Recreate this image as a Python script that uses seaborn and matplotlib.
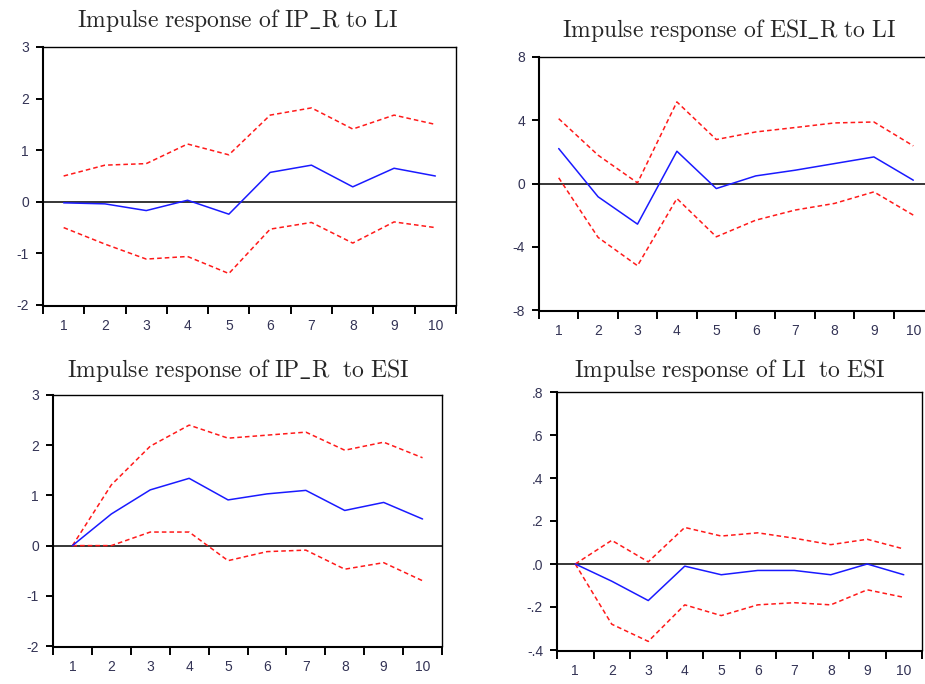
import numpy as np
import pandas as pd
import matplotlib
import matplotlib.pyplot as plt
import seaborn as sns
from matplotlib.ticker import FixedLocator, FuncFormatter, NullFormatter

periods = np.arange(1, 11)

# IP_R to LI
ip_li_resp = [-0.02, -0.04, -0.17, 0.03, -0.24, 0.57, 0.71, 0.29, 0.65, 0.50]
ip_li_up = [0.50, 0.71, 0.74, 1.12, 0.91, 1.68, 1.82, 1.41, 1.68, 1.50]
ip_li_lo = [-0.50, -0.82, -1.11, -1.06, -1.39, -0.53, -0.40, -0.80, -0.39, -0.50]

# ESI_R to LI
esi_li_resp = [2.21, -0.84, -2.57, 2.04, -0.32, 0.48, 0.84, 1.26, 1.68, 0.21]
esi_li_up = [4.10, 1.79, 0.04, 5.16, 2.78, 3.26, 3.54, 3.83, 3.89, 2.38]
esi_li_lo = [0.36, -3.41, -5.20, -0.95, -3.37, -2.32, -1.68, -1.26, -0.53, -2.00]

# IP_R to ESI
ip_esi_resp = [0.00, 0.63, 1.11, 1.34, 0.91, 1.03, 1.10, 0.70, 0.86, 0.53]
ip_esi_up = [0.00, 1.21, 1.98, 2.40, 2.14, 2.20, 2.26, 1.90, 2.06, 1.75]
ip_esi_lo = [0.00, 0.00, 0.27, 0.27, -0.30, -0.12, -0.09, -0.47, -0.34, -0.70]

# LI to ESI
li_esi_resp = [0.00, -0.08, -0.17, -0.01, -0.05, -0.03, -0.03, -0.05, 0.00, -0.05]
li_esi_up = [0.00, 0.11, 0.01, 0.17, 0.13, 0.145, 0.12, 0.09, 0.115, 0.07]
li_esi_lo = [0.00, -0.28, -0.36, -0.19, -0.24, -0.19, -0.18, -0.19, -0.12, -0.155]

# titles in computer-modern via mathtext
titles = [
    r"$\mathrm{Impulse\ response\ of\ IP\_R\ to\ LI}$",
    r"$\mathrm{Impulse\ response\ of\ ESI\_R\ to\ LI}$",
    r"$\mathrm{Impulse\ response\ of\ IP\_R\ \ to\ ESI}$",
    r"$\mathrm{Impulse\ response\ of\ LI\ \ to\ ESI}$",
]

sns.set_style("white")
plt.rcParams["axes.unicode_minus"] = False
plt.rcParams["mathtext.fontset"] = "cm"
plt.rcParams["font.family"] = ["Liberation Sans", "DejaVu Sans"]

W, H = 925, 684
fig = plt.figure(figsize=(W / 100, H / 100), dpi=100)


def px_axes(left, top, right, bottom):
    return fig.add_axes([left / W, 1 - bottom / H, (right - left) / W, (bottom - top) / H])


panels = [
    # box (l, t, r, b), ylim, yticks, title pos, data
    ((43, 47, 456, 305), (-2, 3), [-2, -1, 0, 1, 2, 3], (238, 20),
     (ip_li_resp, ip_li_up, ip_li_lo), None),
    ((539, 57, 933, 310), (-8, 8), [-8, -4, 0, 4, 8], (729, 30),
     (esi_li_resp, esi_li_up, esi_li_lo), None),
    ((53, 395, 442, 646), (-2, 3), [-2, -1, 0, 1, 2, 3], (238, 370),
     (ip_esi_resp, ip_esi_up, ip_esi_lo), None),
    ((557, 392, 922, 650), (-0.4, 0.8), [-0.4, -0.2, 0.0, 0.2, 0.4, 0.6, 0.8], (730, 370),
     (li_esi_resp, li_esi_up, li_esi_lo), "dot"),
]


def dot_fmt(v, pos):
    s = f"{v:.1f}"
    return s.replace("0.", ".")


for (box, ylim, yticks, tpos, series, fmt), title in zip(panels, titles):
    ax = px_axes(*box)
    resp, up, lo = series
    df = pd.DataFrame({"period": periods, "resp": resp, "up": up, "lo": lo})
    ax.axhline(0, color="black", lw=1.1, zorder=1)
    sns.lineplot(data=df, x="period", y="up", ax=ax, color="#ff1a1a", lw=1.1,
                 dashes=False, linestyle=(0, (3, 2)))
    sns.lineplot(data=df, x="period", y="lo", ax=ax, color="#ff1a1a", lw=1.1,
                 dashes=False, linestyle=(0, (3, 2)))
    sns.lineplot(data=df, x="period", y="resp", ax=ax, color="#1a1aff", lw=1.1)
    ax.set_xlim(0.5, 10.5)
    ax.set_ylim(*ylim)
    ax.set_xlabel("")
    ax.set_ylabel("")
    ax.xaxis.set_major_locator(FixedLocator(np.arange(0.5, 11, 1)))
    ax.xaxis.set_major_formatter(NullFormatter())
    ax.xaxis.set_minor_locator(FixedLocator(periods))
    ax.set_xticklabels([str(p) for p in periods], minor=True)
    ax.tick_params(axis="x", which="major", direction="out", length=6, width=1.4,
                   color="black", bottom=True)
    ax.tick_params(axis="x", which="minor", length=0, labelsize=10, pad=9,
                   labelcolor="#333355")
    ax.set_yticks(yticks)
    if fmt == "dot":
        ax.yaxis.set_major_formatter(FuncFormatter(dot_fmt))
    else:
        ax.yaxis.set_major_formatter(FuncFormatter(lambda v, p: f"{v:g}"))
    ax.tick_params(axis="y", direction="out", length=5, width=1.4, color="black",
                   left=True, labelsize=10, pad=5, labelcolor="#333355")
    for side in ["left", "right", "top", "bottom"]:
        ax.spines[side].set_visible(True)
        ax.spines[side].set_color("black")
    ax.spines["left"].set_linewidth(1.5)
    ax.spines["bottom"].set_linewidth(1.5)
    ax.spines["top"].set_linewidth(1.0)
    ax.spines["right"].set_linewidth(1.0)
    ax.spines["bottom"].set_position(("outward", 1))
    fig.text(tpos[0] / W, 1 - tpos[1] / H, title, ha="center", va="center",
             fontsize=17)

fig.savefig("out.png", dpi=100)
